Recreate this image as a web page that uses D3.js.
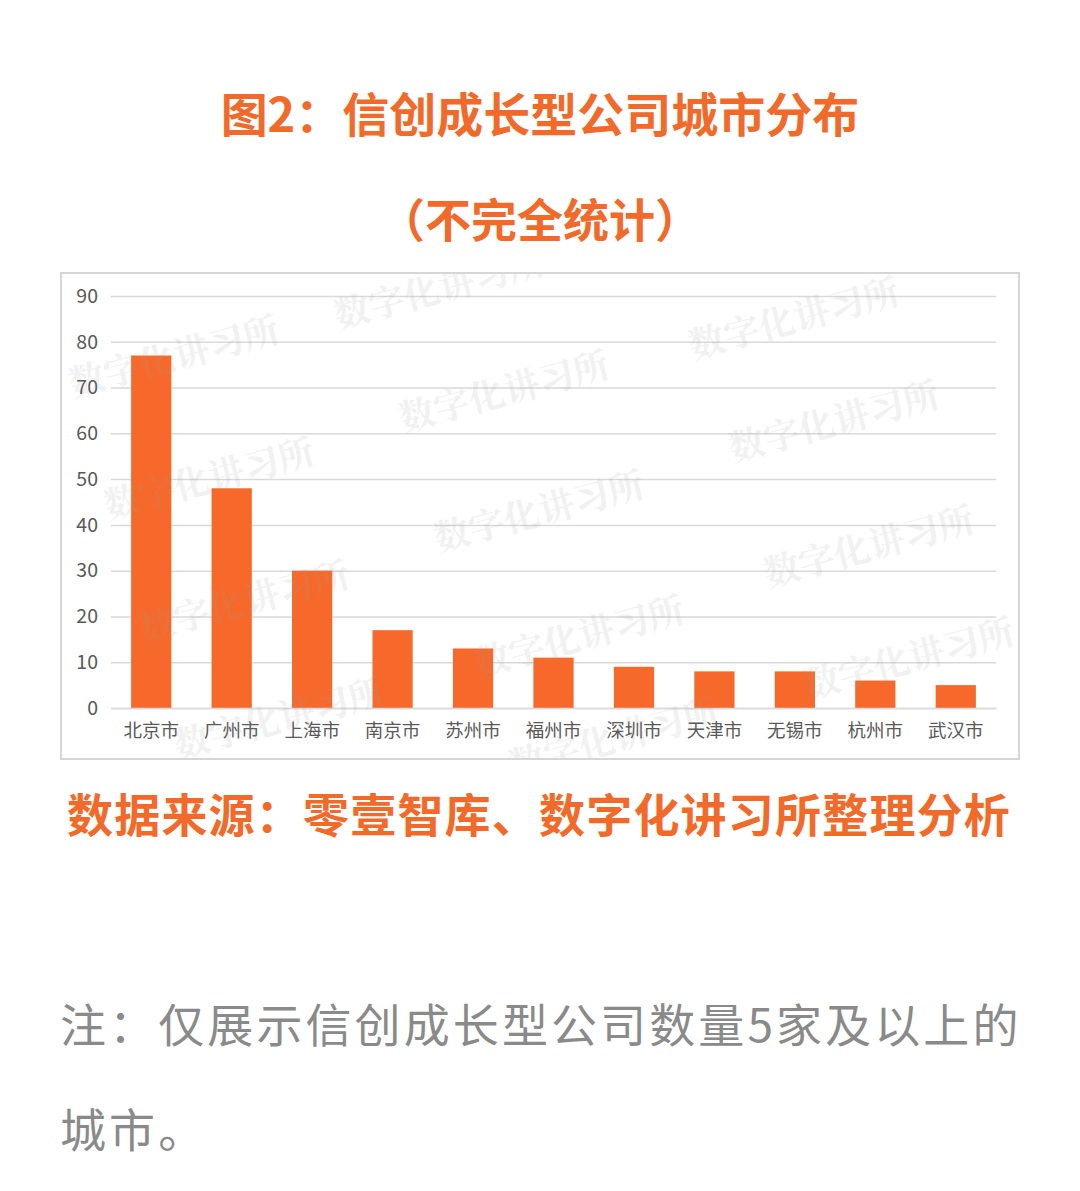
<!DOCTYPE html>
<html><head><meta charset="utf-8">
<script src="https://cdn.jsdelivr.net/npm/d3@7"></script>
<style>
body{margin:0;background:#fff;}
svg{display:block;font-family:"Noto Sans CJK SC","Noto Sans",sans-serif;}
</style></head>
<body>
<svg id="c" width="1080" height="1191"></svg>
<script>
const cities = ["北京市","广州市","上海市","南京市","苏州市","福州市","深圳市","天津市","无锡市","杭州市","武汉市"];
const counts = [77,48,30,17,13,11,9,8,8,6,5];
const yTicks = [0,10,20,30,40,50,60,70,80,90];
const titleText = "图2：信创成长型公司城市分布";
const subtitleText = "（不完全统计）";
const sourceText = "数据来源：零壹智库、数字化讲习所整理分析";
const noteLines = ["注：仅展示信创成长型公司数量5家及以上的","城市。"];
const watermark = "数字化讲习所";
const wmPositions = [[440,292],[795,322],[175,360],[505,395],[835,425],[210,482],[540,515],[870,550],[245,605],[580,640],[910,662],[280,722],[615,742]];

const svg = d3.select("#c");
const orange = "#F26A2A";

svg.append("text").attr("x",540).attr("y",132).attr("text-anchor","middle")
  .attr("font-size",47).attr("font-weight",700).attr("fill",orange).text(titleText);
svg.append("text").attr("x",540).attr("y",237).attr("text-anchor","middle")
  .attr("font-size",46).attr("font-weight",700).attr("fill",orange).text(subtitleText);

// chart box
svg.append("rect").attr("x",61).attr("y",273).attr("width",958).attr("height",486)
  .attr("fill","#fff").attr("stroke","#d6d6d6").attr("stroke-width",2);

const x = d3.scaleBand().domain(cities).range([111,996]).paddingInner(0.5).paddingOuter(0.25);
const y = d3.scaleLinear().domain([0,90]).range([708,296]);

const g = svg.append("g");
g.append("g").attr("transform","translate(111,0)")
  .call(d3.axisLeft(y).tickValues(yTicks).tickSize(-885).tickFormat(d=>d).tickPadding(13))
  .call(a=>a.select(".domain").remove())
  .call(a=>a.selectAll(".tick line").attr("stroke","#d9d9d9").attr("stroke-width",1.5))
  .call(a=>a.selectAll(".tick text").attr("fill","#595959").attr("font-size",19.5)
     .attr("font-family","\"Noto Sans CJK SC\",sans-serif"));

g.selectAll("rect.bar").data(cities).enter().append("rect").attr("class","bar")
  .attr("x",d=>x(d)).attr("width",x.bandwidth())
  .attr("y",(d,i)=>y(counts[i])).attr("height",(d,i)=>y(0)-y(counts[i]))
  .attr("fill","#F7692A");

g.append("g").attr("transform","translate(0,708)")
  .call(d3.axisBottom(x).tickSize(0).tickPadding(16))
  .call(a=>a.select(".domain").attr("stroke","#d9d9d9").attr("stroke-width",1.5))
  .call(a=>a.selectAll(".tick text").attr("fill","#595959").attr("font-size",18.5)
     .attr("font-family","\"Noto Sans CJK SC\",sans-serif"));

svg.append("clipPath").attr("id","box").append("rect")
  .attr("x",62).attr("y",274).attr("width",956).attr("height",484);
const wm = svg.append("g").attr("clip-path","url(#box)");
wm.selectAll("text").data(wmPositions).enter().append("text")
  .attr("transform",d=>`translate(${d[0]},${d[1]}) rotate(-15)`)
  .attr("text-anchor","middle").attr("dominant-baseline","middle")
  .attr("font-size",36).attr("font-weight",700)
  .attr("font-family","\"Noto Serif CJK SC\",\"Noto Sans CJK SC\",serif")
  .attr("fill","#9a9a9a").attr("opacity",0.13).text(watermark);

svg.append("text").attr("x",539).attr("y",832).attr("text-anchor","middle")
  .attr("font-size",46).attr("letter-spacing",1.2).attr("font-weight",700).attr("fill",orange).text(sourceText);

svg.selectAll("text.note").data(noteLines).enter().append("text").attr("class","note")
  .attr("x",60).attr("y",(d,i)=>1042+i*105)
  .attr("font-size",46).attr("letter-spacing",3.1).attr("fill","#8a8a8a").text(d=>d);
</script>
</body></html>
